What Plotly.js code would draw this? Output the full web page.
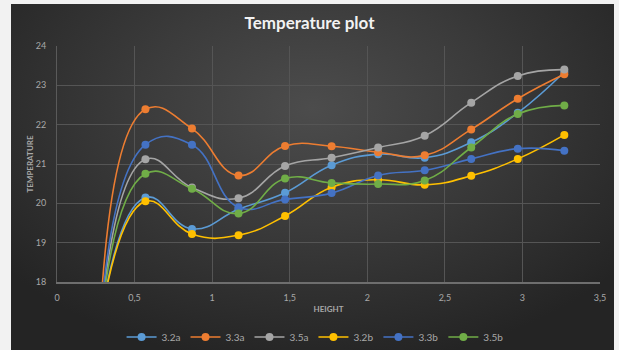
<!DOCTYPE html>
<html>
<head>
<meta charset="utf-8">
<script src="https://cdn.plot.ly/plotly-3.0.1.min.js"></script>
<style>
  html, body { margin:0; padding:0; background:#f2f2f2; width:619px; height:350px; overflow:hidden; }
  #bg { position:absolute; left:11px; top:4px; width:603px; height:346px;
        background: radial-gradient(ellipse 65% 75% at 50% 30%, #4c4c4c 0%, #3b3b3b 45%, #242424 100%); }
  #chart { position:absolute; left:0; top:0; width:619px; height:350px; }
</style>
</head>
<body>
<div id="bg"></div>
<div id="chart"></div>
<script>
const heights = [0.27, 0.57, 0.87, 1.17, 1.47, 1.77, 2.07, 2.37, 2.67, 2.97, 3.27];

const seriesNames = ["3.2a", "3.3a", "3.5a", "3.2b", "3.3b", "3.5b"];
const seriesColors = ["#5B9BD5", "#ED7D31", "#A5A5A5", "#FFC000", "#4472C4", "#70AD47"];

const t32a = [16.8, 20.15, 19.35, 19.85, 20.27, 20.97, 21.25, 21.16, 21.55, 22.30, 23.34];
const t33a = [16.5, 22.39, 21.90, 20.71, 21.46, 21.45, 21.30, 21.22, 21.88, 22.66, 23.28];
const t35a = [16.6, 21.12, 20.40, 20.13, 20.95, 21.16, 21.42, 21.72, 22.56, 23.24, 23.40];
const t32b = [16.8, 20.05, 19.22, 19.19, 19.68, 20.41, 20.60, 20.47, 20.70, 21.13, 21.74];
const t33b = [16.5, 21.49, 21.49, 19.90, 20.10, 20.26, 20.71, 20.84, 21.13, 21.39, 21.34];
const t35b = [16.6, 20.75, 20.37, 19.74, 20.63, 20.52, 20.49, 20.58, 21.42, 22.27, 22.49];

const allSeries = [t32a, t33a, t35a, t32b, t33b, t35b];

const traces = allSeries.map((vals, i) => ({
  x: heights,
  y: vals,
  name: seriesNames[i],
  type: "scatter",
  mode: "lines+markers",
  line: { color: seriesColors[i], width: 1.6, shape: "spline", smoothing: 1.3 },
  marker: { color: seriesColors[i], size: 8 },
  cliponaxis: true
}));

const tickFont = { family: "Lato, 'Open Sans', sans-serif", size: 9, color: "#a8a8a8" };
const titleFont = { family: "Lato, 'Open Sans', sans-serif", size: 8, color: "#a8a8a8", weight: "bold" };

const layout = {
  width: 619,
  height: 350,
  margin: { l: 57, r: 19, t: 46, b: 68 },
  paper_bgcolor: "rgba(0,0,0,0)",
  plot_bgcolor: "rgba(0,0,0,0)",
  separators: ", ",
  showlegend: true,
  title: {
    text: "Temperature plot",
    font: { family: "Lato, 'Open Sans', sans-serif", size: 17, color: "#f2f2f2", weight: "bold" },
    x: 0.5, xref: "container", xanchor: "center",
    y: 1 - 23 / 350, yref: "container", yanchor: "middle"
  },
  xaxis: {
    range: [0, 3.5],
    dtick: 0.5,
    tick0: 0,
    showgrid: true,
    gridcolor: "#555555",
    gridwidth: 1,
    zeroline: false,
    showline: true,
    linecolor: "#6e6e6e",
    linewidth: 1.5,
    ticks: "",
    ticklabelstandoff: 7,
    tickfont: tickFont,
    title: { text: "HEIGHT", font: titleFont, standoff: 4 }
  },
  yaxis: {
    range: [18, 24],
    dtick: 1,
    tick0: 18,
    showgrid: true,
    gridcolor: "#555555",
    gridwidth: 1,
    zeroline: false,
    showline: true,
    linecolor: "#5a5a5a",
    linewidth: 1,
    ticks: "",
    ticklabelstandoff: 8,
    tickfont: tickFont,
    title: { text: "TEMPERATURE", font: titleFont, standoff: 0 }
  },
  legend: {
    orientation: "h",
    x: 0.509, xref: "container", xanchor: "center",
    y: 1 - 337 / 350, yref: "container", yanchor: "middle",
    font: { family: "Lato, 'Open Sans', sans-serif", size: 10, color: "#a8a8a8" },
    bgcolor: "rgba(0,0,0,0)",
    itemwidth: 30,
    tracegroupgap: 0
  }
};

Plotly.newPlot("chart", traces, layout, { displayModeBar: false, staticPlot: true });
</script>
</body>
</html>
